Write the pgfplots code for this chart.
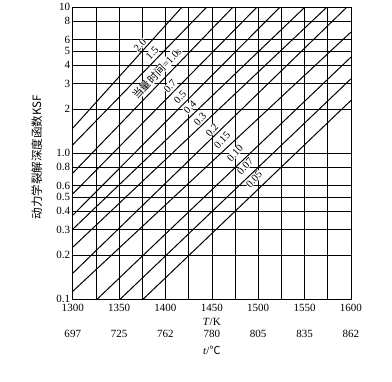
\documentclass[border=0pt]{standalone}
\usepackage{fontspec}
\setmainfont{Liberation Serif}
\newfontfamily\cjk{Noto Sans CJK SC}
\usepackage{pgfplots}
\pgfplotsset{compat=1.18}
\begin{document}
\begin{tikzpicture}
\begin{axis}[
  scale only axis, width=278pt, height=292pt,
  xmin=1300, xmax=1600, ymin=0.1, ymax=10, ymode=log,
  axis line style={line width=0.8pt},
  xtick={1300,1350,1400,1450,1500,1550,1600},
  minor xtick={1325,1375,1425,1475,1525,1575},
  xticklabels={{1300\\[13pt]697},{1350\\[13pt]725},{1400\\[13pt]762},{1450\\[13pt]780},{1500\\[13pt]805},{1550\\[13pt]835},{1600\\[13pt]862}},
  xticklabel style={align=center, font=\fontsize{11}{13}\selectfont, yshift=-1pt},
  ytick={0.1,0.2,0.3,0.4,0.5,0.6,0.8,1,2,3,4,5,6,8,10},
  yticklabels={0.1,0.2,0.3,0.4,0.5,0.6,0.8,1.0,2,3,4,5,6,8,10},
  yticklabel style={font=\fontsize{11}{13}\selectfont, xshift=1pt},
  xmajorgrids, xminorgrids, ymajorgrids,
  major grid style={black, line width=0.7pt},
  minor grid style={black, line width=0.7pt},
  major tick length=0pt, minor tick length=0pt,
]
\pgfplotsset{every axis plot/.style={black, solid, line width=1.0pt, mark=none}}
% t = 2.0
\addplot[black, line width=1pt] coordinates {(1300,1.483) (1417.8,10)};
% t = 1.5
\addplot[black, line width=1pt] coordinates {(1300,1.14) (1444.5,10)};
% t = 1.0
\addplot[black, line width=1pt] coordinates {(1300,0.73) (1472.8,10)};
% t = 0.7
\addplot[black, line width=1pt] coordinates {(1300,0.526) (1498.7,10)};
% t = 0.5
\addplot[black, line width=1pt] coordinates {(1300,0.376) (1523.5,10)};
% t = 0.4
\addplot[black, line width=1pt] coordinates {(1300,0.3016) (1550.4,10)};
% t = 0.3
\addplot[black, line width=1pt] coordinates {(1300,0.2271) (1574.1,10)};
% t = 0.2
\addplot[black, line width=1pt] coordinates {(1300,0.1507) (1595.7,10)};
% t = 0.15
\addplot[black, line width=1pt] coordinates {(1300,0.1134) (1600,6.74)};
% t = 0.10
\addplot[black, line width=1pt] coordinates {(1326.2,0.1) (1600,4.545)};
% t = 0.07
\addplot[black, line width=1pt] coordinates {(1351,0.1) (1600,3.228)};
% t = 0.05
\addplot[black, line width=1pt] coordinates {(1375.8,0.1) (1600,2.296)};

\begin{scope}[every node/.style={rotate=47, fill=white, inner sep=0.3pt, font=\fontsize{10.5}{12}\selectfont}]
\node at (axis cs:1372.6,5.49) {2.0};
\node at (axis cs:1385.6,4.84) {1.5};
\node at (axis cs:1390.9,3.53) {{\cjk 当量时间}=1.0s};
\node at (axis cs:1404.9,2.88) {0.7};
\node at (axis cs:1415.7,2.42) {0.5};
\node at (axis cs:1426.4,2.07) {0.4};
\node at (axis cs:1437.2,1.71) {0.3};
\node at (axis cs:1450.2,1.44) {0.2};
\node at (axis cs:1461,1.23) {0.15};
\node at (axis cs:1475,1.0) {0.10};
\node at (axis cs:1485.8,0.81) {0.07};
\node at (axis cs:1495.5,0.664) {0.05};
\end{scope}
\coordinate (bl) at (rel axis cs:0,0);
\coordinate (tr) at (rel axis cs:1,1);
\coordinate (bc) at (rel axis cs:0.5,0);
\coordinate (lc) at (rel axis cs:0,0.5);
\end{axis}
\node[rotate=90, font=\fontsize{11.5}{13}\selectfont] at ([xshift=-36pt,yshift=-4pt]lc) {\cjk 动力学裂解深度函数KSF};
\node[font=\fontsize{11}{13}\selectfont] at ([yshift=-23pt]bc) {\textit{T}/K};
\node[font=\fontsize{11}{13}\selectfont] at ([yshift=-51pt]bc) {\textit{t}/{\cjk ℃}};
\path ([xshift=-72.7pt,yshift=-82pt]bl) rectangle ([xshift=41pt,yshift=5pt]tr);
\end{tikzpicture}
\end{document}
